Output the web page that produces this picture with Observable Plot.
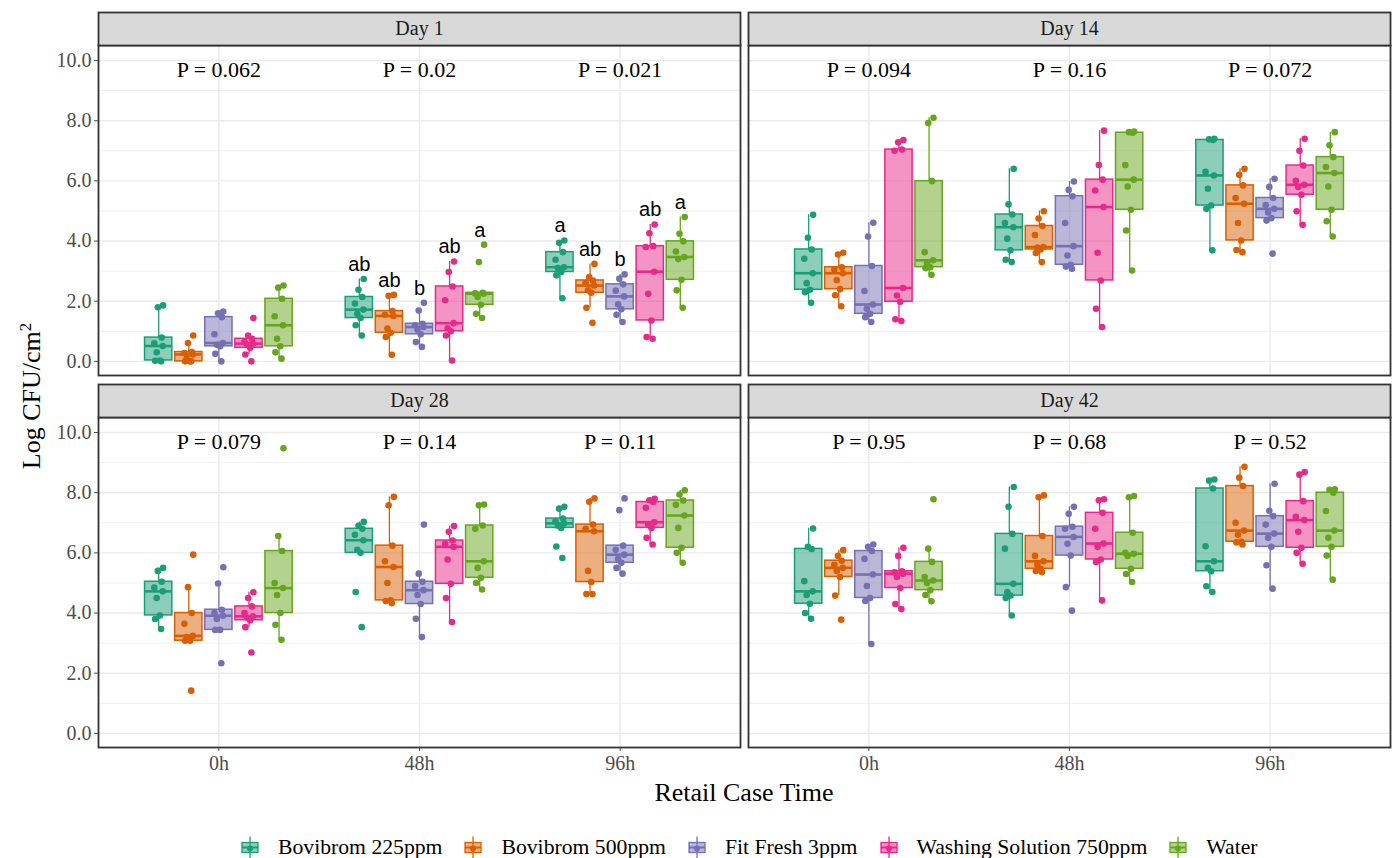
<!DOCTYPE html>
<html>
<head>
<meta charset="utf-8">
<script src="https://cdn.jsdelivr.net/npm/d3@7"></script>
<script src="https://cdn.jsdelivr.net/npm/@observablehq/plot@0.6"></script>
<style>
  body { margin: 0; background: #fff; }
  #wrap { position: relative; width: 1393px; height: 858px; font-family: "Liberation Serif", "Times New Roman", serif; color: #000; }
  #chart { position: absolute; left: 0; top: 0; }
  #ylab { position: absolute; left: 32px; top: 396px; transform: translate(-50%, -50%) rotate(-90deg); font-size: 26px; white-space: nowrap; }
  #ylab sup { font-size: 17px; vertical-align: 9px; line-height: 0; }
  #xlab { position: absolute; left: 744px; top: 793px; transform: translate(-50%, -50%); font-size: 26px; white-space: nowrap; }
  #legend { position: absolute; left: 240px; top: 847px; transform: translateY(-50%); display: flex; align-items: center; font-size: 21.7px; white-space: nowrap; }
  .item { display: flex; align-items: center; margin-right: 21px; }
  .item svg { margin-right: 18px; }
</style>
</head>
<body>
<div id="wrap">
  <div id="chart"></div>
  <div id="ylab">Log CFU/cm<sup>2</sup></div>
  <div id="xlab">Retail Case Time</div>
  <div id="legend"></div>
</div>
<script>
// ---------- data ----------
const days = ["Day 1", "Day 14", "Day 28", "Day 42"];
const times = ["0h", "48h", "96h"];
const treatments = ["Bovibrom 225ppm", "Bovibrom 500ppm", "Fit Fresh 3ppm", "Washing Solution 750ppm", "Water"];
const colors = ["#1B9E77", "#D95F02", "#7570B3", "#E7298A", "#66A61E"];
const pValues = [
  ["0.062", "0.02", "0.021"],
  ["0.094", "0.16", "0.072"],
  ["0.079", "0.14", "0.11"],
  ["0.95", "0.68", "0.52"]
];
// letters for Day 1 [time][treatment]
const day1Letters = [
  ["", "", "", "", ""],
  ["ab", "ab", "b", "ab", "a"],
  ["a", "ab", "b", "ab", "a"]
];
// values [time][treatment] -> samples (Log CFU/cm2)
const day1 = [
  [[0.0,0.02,0.03,0.3,0.51,0.6,0.79,1.8,1.86],
   [0.0,0.0,0.0,0.1,0.23,0.28,0.31,0.61,0.86],
   [0.0,0.25,0.5,0.55,0.61,0.9,1.47,1.6,1.66],
   [0.0,0.23,0.45,0.55,0.59,0.65,0.75,0.86,1.44],
   [0.09,0.3,0.5,0.75,1.2,1.5,2.08,2.45,2.52]],
  [[0.86,1.2,1.44,1.58,1.72,1.92,2.14,2.38,2.74],
   [0.22,0.81,0.95,1.09,1.51,1.55,1.67,2.18,2.21],
   [0.48,0.64,0.9,1.05,1.14,1.2,1.25,1.69,1.95],
   [0.03,0.86,1.0,1.1,1.27,2.03,2.49,2.97,3.32],
   [1.44,1.58,1.88,2.14,2.25,2.26,2.28,3.3,3.88]],
  [[2.1,2.86,2.97,3.1,3.13,3.38,3.63,3.94,4.02],
   [1.28,1.78,2.28,2.36,2.52,2.6,2.69,2.8,3.24],
   [1.31,1.55,1.73,1.9,2.16,2.35,2.56,2.75,2.89],
   [0.75,0.81,1.36,2.25,2.98,3.8,3.83,4.26,4.55],
   [1.78,2.36,2.71,3.4,3.47,3.65,3.99,4.24,4.8]]
];
const day14 = [
  [[1.95,2.3,2.38,2.6,2.93,3.41,3.72,4.11,4.87],
   [1.83,2.2,2.4,2.7,2.93,3.05,3.13,3.55,3.61],
   [1.31,1.47,1.58,1.75,1.89,2.34,3.17,4.15,4.61],
   [1.34,1.4,1.98,2.19,2.44,7.0,7.04,7.28,7.36],
   [2.88,3.1,3.13,3.25,3.36,3.63,5.99,7.92,8.1]],
  [[3.3,3.38,3.69,4.08,4.46,4.6,4.88,5.22,6.4],
   [3.3,3.6,3.72,3.78,3.8,4.2,4.5,4.75,4.99],
   [3.08,3.15,3.21,3.52,3.83,4.6,5.49,5.7,5.98],
   [1.14,1.75,2.69,3.61,5.13,5.68,6.04,6.53,7.67],
   [3.02,4.35,5.04,5.81,6.04,6.53,7.6,7.62,7.64]],
  [[3.69,5.07,5.18,5.74,6.18,6.3,7.36,7.38,7.4],
   [3.63,3.7,4.02,4.6,5.24,5.43,5.85,6.2,6.4],
   [3.58,4.68,4.76,4.95,5.07,5.2,5.43,5.8,6.07],
   [4.54,4.99,5.54,5.8,5.87,6.0,6.51,7.0,7.4],
   [4.15,4.66,5.04,5.81,6.26,6.46,6.79,7.18,7.62]]
];
const day28 = [
  [[3.47,3.8,3.92,4.5,4.72,4.85,5.04,5.4,5.5],
   [1.42,3.08,3.08,3.2,3.24,3.64,4.0,4.86,5.94],
   [2.33,3.44,3.44,3.8,3.91,4.0,4.11,4.98,5.52],
   [2.69,3.53,3.76,3.85,3.89,4.0,4.22,4.5,4.69],
   [3.11,3.61,4.0,4.6,4.83,5.0,6.06,6.56,9.48]],
  [[3.53,4.7,6.0,6.1,6.42,6.6,6.8,6.9,7.03],
   [4.33,4.4,4.42,5.0,5.53,5.72,6.24,7.58,7.86],
   [3.2,3.81,4.3,4.6,4.76,4.9,5.04,5.31,6.94],
   [3.7,4.5,4.97,5.78,6.2,6.3,6.41,6.7,6.89],
   [4.78,5.0,5.17,5.5,5.72,6.8,6.91,7.58,7.61]],
  [[5.83,6.21,6.83,6.9,6.98,7.05,7.14,7.47,7.53],
   [4.63,4.63,5.03,5.4,6.72,6.8,6.94,7.7,7.81],
   [5.31,5.5,5.67,5.8,5.94,6.1,6.24,7.42,7.81],
   [6.28,6.5,6.83,6.95,7.02,7.5,7.69,7.75,7.8],
   [5.67,6.0,6.17,6.83,7.24,7.6,7.74,7.94,8.08]]
];
const day42 = [
  [[3.81,4.0,4.31,4.6,4.72,5.06,6.13,6.2,6.81],
   [3.78,4.58,5.2,5.4,5.5,5.6,5.74,5.9,6.09],
   [2.97,4.4,4.5,4.9,5.28,5.8,6.06,6.2,6.28],
   [4.13,4.3,4.83,5.2,5.31,5.35,5.39,5.9,6.17],
   [4.39,4.6,4.76,5.0,5.08,5.2,5.7,6.14,7.78]],
  [[3.92,4.5,4.58,4.7,4.97,6.14,6.63,7.53,8.19],
   [5.36,5.4,5.47,5.6,5.72,5.9,6.56,7.85,7.91],
   [4.08,4.86,5.91,6.3,6.53,6.8,6.87,7.3,7.53],
   [4.42,5.7,5.78,6.2,6.31,6.8,7.33,7.75,7.78],
   [5.03,5.3,5.47,5.9,5.97,6.0,6.67,7.85,7.89]],
  [[4.7,4.89,5.39,5.5,5.72,6.22,8.14,8.4,8.44],
   [6.28,6.35,6.37,6.6,6.74,7.0,8.22,8.5,8.86],
   [4.81,5.59,6.2,6.5,6.64,6.94,7.22,7.4,8.3],
   [5.64,6.0,6.17,6.7,7.09,7.2,7.72,8.6,8.69],
   [5.11,5.91,6.2,6.5,6.74,7.39,8.0,8.1,8.11]]
];
const yTicks = [0, 2, 4, 6, 8, 10];
const gridLines = [0, 1, 2, 3, 4, 5, 6, 7, 8, 9, 10];

// ---------- layout constants (styles, not data) ----------
const dodge = 0.15, halfBox = 0.068;
const jitter = [0.012, -0.018, 0.006, -0.01, 0.02, -0.022, 0.015, -0.004, 0.022];
const pLabelY = 9.7, letterGap = 0.48;

// ---------- build tables ----------
const dayValues = [day1, day14, day28, day42];
const points = [], stats = [], pRows = [], letterRows = [];
const dayRows = days.map((d, i) => ({day: d, col: i % 2, row: Math.floor(i / 2)}));
dayValues.forEach((dv, di) => {
  const col = di % 2, row = Math.floor(di / 2);
  dv.forEach((tv, ti) => {
    pRows.push({col, row, x: ti + 1, text: "P = " + pValues[di][ti]});
    tv.forEach((vals, ki) => {
      const cx = ti + 1 + (ki - 2) * dodge;
      vals.forEach((v, j) => points.push({col, row, treatment: treatments[ki], x: cx + jitter[j % jitter.length], value: v}));
      const s = vals.slice().sort(d3.ascending);
      const q1 = d3.quantile(s, 0.25), med = d3.quantile(s, 0.5), q3 = d3.quantile(s, 0.75);
      const iqr = q3 - q1;
      const lo = d3.min(s.filter(v => v >= q1 - 1.5 * iqr));
      const hi = d3.max(s.filter(v => v <= q3 + 1.5 * iqr));
      stats.push({col, row, treatment: treatments[ki], x: cx, q1, med, q3, lo, hi});
      if (di === 0 && day1Letters[ti][ki]) {
        letterRows.push({col, row, x: cx, y: d3.max(s) + letterGap, text: day1Letters[ti][ki]});
      }
    });
  });
});

// ---------- plot ----------
const facetH = 330, stripH = 33;
const chart = Plot.plot({
  width: 1393,
  height: 780,
  marginLeft: 98,
  marginRight: 3,
  marginTop: 45,
  marginBottom: 33,
  style: {fontFamily: "Liberation Serif, Times New Roman, serif", background: "white", overflow: "visible"},
  x: {domain: [0.4, 3.6]},
  y: {domain: [-0.47, 10.5]},
  fx: {domain: [0, 1], axis: null, paddingInner: 8 / 650, paddingOuter: 0, round: false},
  fy: {domain: [0, 1], axis: null, paddingInner: 42 / 372, paddingOuter: 0, round: false},
  color: {domain: treatments, range: colors},
  marks: [
    Plot.ruleY(gridLines.filter(d => d % 2 === 1), {stroke: "#ebebeb", strokeWidth: 0.8}),
    Plot.ruleY(gridLines.filter(d => d % 2 === 0), {stroke: "#ebebeb", strokeWidth: 1.4}),
    Plot.ruleX([1, 2, 3], {stroke: "#ebebeb", strokeWidth: 1.4}),
    Plot.ruleX(stats, {fx: "col", fy: "row", x: "x", y1: "q3", y2: "hi", stroke: "treatment", strokeWidth: 1.3}),
    Plot.ruleX(stats, {fx: "col", fy: "row", x: "x", y1: "lo", y2: "q1", stroke: "treatment", strokeWidth: 1.3}),
    Plot.rect(stats, {fx: "col", fy: "row", x1: d => d.x - halfBox, x2: d => d.x + halfBox, y1: "q1", y2: "q3",
      fill: "treatment", fillOpacity: 0.5, stroke: "treatment", strokeWidth: 1.5}),
    Plot.ruleY(stats, {fx: "col", fy: "row", y: "med", x1: d => d.x - halfBox, x2: d => d.x + halfBox, stroke: "treatment", strokeWidth: 2.6}),
    Plot.dot(points, {fx: "col", fy: "row", x: "x", y: "value", fill: "treatment", r: 3.3}),
    Plot.frame({stroke: "#333333", strokeWidth: 1.8}),
    Plot.frame({fill: "#d9d9d9", stroke: "#333333", strokeWidth: 1.8, insetTop: -stripH, insetBottom: facetH}),
    Plot.text(dayRows, {fx: "col", fy: "row", text: "day", frameAnchor: "top", lineAnchor: "middle", dy: -stripH / 2, fontSize: 20, fill: "#1a1a1a"}),
    Plot.text(pRows, {fx: "col", fy: "row", x: "x", y: () => pLabelY, text: "text", fontSize: 22, fill: "#000"}),
    Plot.text(letterRows, {fx: "col", fy: "row", x: "x", y: "y", text: "text", fontSize: 20, fill: "#000",
      fontFamily: "Liberation Sans, Arial, sans-serif"}),
    Plot.axisX([1, 2, 3], {tickFormat: d => times[d - 1], fontSize: 20, tickSize: 4, tickPadding: 4, color: "#4d4d4d", label: null}),
    Plot.axisY(yTicks, {tickFormat: d3.format(".1f"), fontSize: 20, tickSize: 4, tickPadding: 3, color: "#4d4d4d", label: null})
  ]
});
document.getElementById("chart").appendChild(chart);

// ---------- legend ----------
const legend = document.getElementById("legend");
treatments.forEach((t, i) => {
  const c = colors[i];
  const item = document.createElement("div");
  item.className = "item";
  item.innerHTML =
    `<svg width="20" height="24" viewBox="0 0 20 24">
       <line x1="10" y1="1" x2="10" y2="23" stroke="${c}" stroke-width="1.3"/>
       <rect x="2" y="7" width="16" height="10" fill="${c}" fill-opacity="0.5" stroke="${c}" stroke-width="1.3"/>
       <line x1="2" y1="12" x2="18" y2="12" stroke="${c}" stroke-width="2"/>
       <circle cx="10" cy="13" r="3" fill="${c}"/>
     </svg><span>${t}</span>`;
  legend.appendChild(item);
});
</script>
</body>
</html>
